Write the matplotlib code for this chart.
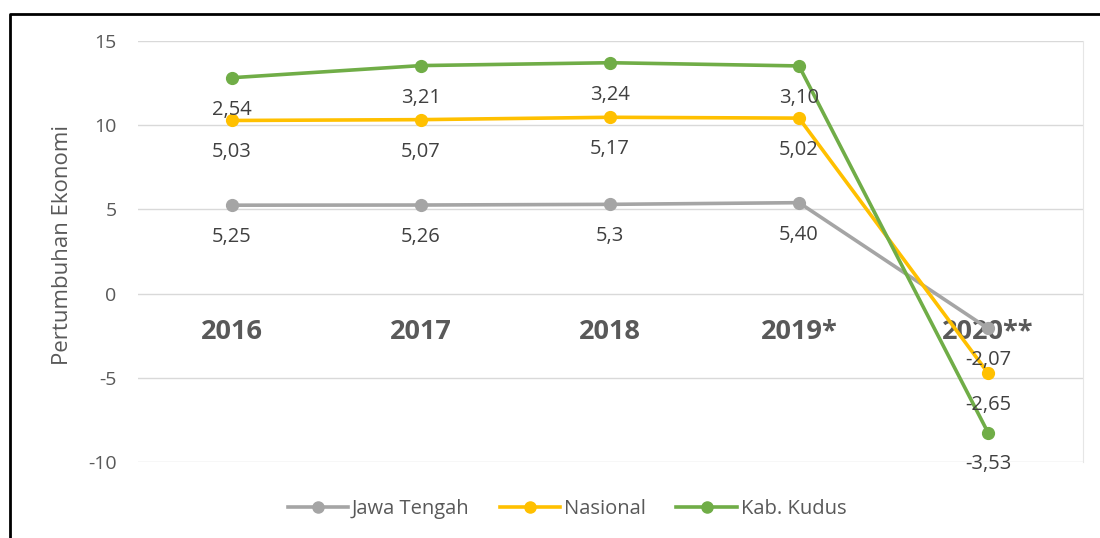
import numpy as np
import matplotlib.pyplot as plt
from matplotlib.lines import Line2D

plt.rcParams['font.family'] = ['Open Sans', 'DejaVu Sans']
plt.rcParams['axes.unicode_minus'] = False

# data (stacked line chart, as in the source)
tahun = ['2016', '2017', '2018', '2019*', '2020**']
jawa_tengah = [5.25, 5.26, 5.3, 5.40, -2.07]
nasional = [5.03, 5.07, 5.17, 5.02, -2.65]
kudus = [2.54, 3.21, 3.24, 3.10, -3.53]
label_jateng = ['5,25', '5,26', '5,3', '5,40', '-2,07']
label_nas = ['5,03', '5,07', '5,17', '5,02', '-2,65']
label_kudus = ['2,54', '3,21', '3,24', '3,10', '-3,53']

nama = ['Jawa Tengah', 'Nasional', 'Kab. Kudus']
warna = ['#A5A5A5', '#FFC000', '#70AD47']

fig = plt.figure(figsize=(11, 5.38), dpi=100)
ax = fig.add_axes([137.5 / 1100, 1 - 462 / 538, 945 / 1100, 421 / 538])

x = np.arange(len(tahun))
tumpuk = np.cumsum(np.array([jawa_tengah, nasional, kudus]), axis=0)
labels = [label_jateng, label_nas, label_kudus]

for i in range(3):
    ax.plot(x, tumpuk[i], color=warna[i], lw=2.6, marker='o', ms=8.5,
            label=nama[i], zorder=3 + i, solid_capstyle='round')
    for xi, yi, t in zip(x, tumpuk[i], labels[i]):
        ax.annotate(t, (xi, yi), xytext=(0, -23), textcoords='offset points',
                    ha='center', va='center', fontsize=14.5, color='#404040', zorder=10)

ax.set_xlim(-0.5, len(tahun) - 0.5)
ax.set_ylim(-10, 15)
ax.set_yticks([-10, -5, 0, 5, 10, 15])
ax.grid(axis='y', color='#D9D9D9', lw=1)
ax.set_axisbelow(True)
for s in ['top', 'left']:
    ax.spines[s].set_visible(False)
ax.spines['right'].set_color('#E6E6E6')
ax.spines['bottom'].set_position(('data', 0))
ax.spines['bottom'].set_visible(False)

ax.set_xticks(x)
ax.set_xticklabels(tahun, fontsize=19.5, fontweight='bold', color='#595959')
ax.tick_params(axis='x', length=0, pad=18)
ax.tick_params(axis='y', length=0, labelsize=14, labelcolor='#595959', pad=15)

fig.text(62 / 1100, 1 - 245 / 538, 'Pertumbuhan Ekonomi', rotation=90,
         ha='center', va='center', fontsize=16, color='#595959')

handles = [Line2D([], [], color=c, lw=2.6, marker='o', ms=8) for c in warna]
fig.legend(handles, nama, loc='center', bbox_to_anchor=(567 / 1100, 1 - 509 / 538),
           ncol=3, frameon=False, fontsize=14.5, handlelength=3.0, columnspacing=1.5,
           handletextpad=0.2, labelcolor='#595959')

# black frame on top and left, as in the screenshot
fig.add_artist(Line2D([10 / 1100, 10 / 1100, 1], [0, 1 - 14 / 538, 1 - 14 / 538],
                      transform=fig.transFigure, color='black', lw=2))

fig.savefig('out.png', dpi=100)
